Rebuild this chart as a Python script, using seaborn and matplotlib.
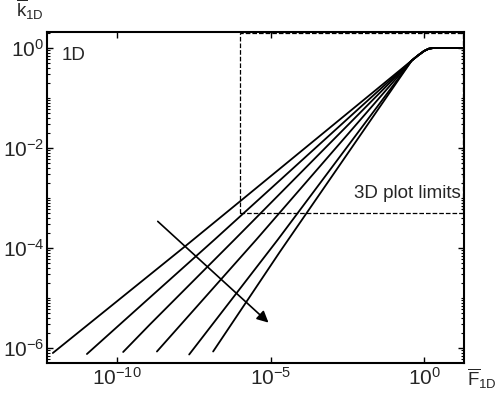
import numpy as np
import pandas as pd
import matplotlib
matplotlib.use('Agg')
import matplotlib.pyplot as plt
import seaborn as sns
from matplotlib.ticker import FixedLocator, LogLocator, NullLocator, NullFormatter
from matplotlib.patches import Rectangle

sns.set_theme(style='ticks')
plt.rcParams['font.family'] = ['Liberation Sans', 'DejaVu Sans']
plt.rcParams['mathtext.fontset'] = 'custom'
plt.rcParams['mathtext.rm'] = 'Liberation Sans'
plt.rcParams['mathtext.it'] = 'Liberation Sans:italic'
plt.rcParams['mathtext.default'] = 'regular'

# curves (log10 of F and k)
logF_1 = [-12.09, -10.01, -7.79, -6.00, -0.40]
logk_1 = [-6.10, -5.07, -3.97, -3.07, -0.25]
logF_2 = [-10.98, -8.93, -6.82, -0.40]
logk_2 = [-6.12, -4.99, -3.83, -0.25]
logF_3 = [-9.80, -8.93, -6.17, -0.40]
logk_3 = [-6.08, -5.53, -3.83, -0.25]
logF_4 = [-8.70, -5.46, -0.40]
logk_4 = [-6.07, -3.83, -0.25]
logF_5 = [-7.65, -4.76, -0.40]
logk_5 = [-6.13, -3.83, -0.25]
logF_6 = [-6.87, -4.70, -0.40]
logk_6 = [-6.07, -4.08, -0.25]

# shared part after the curves merge (rolls over to the plateau at 1)
tail_logF = [-0.20, 0.00, 0.15, 0.30, 1.35]
tail_logk = [-0.15, -0.06, -0.015, 0.00, 0.00]

curves = [(1, logF_1, logk_1), (2, logF_2, logk_2), (3, logF_3, logk_3),
          (4, logF_4, logk_4), (5, logF_5, logk_5), (6, logF_6, logk_6)]

rows = []
for name, lf, lk in curves:
    for a, b in zip(lf + tail_logF, lk + tail_logk):
        rows.append((name, 10 ** a, 10 ** b))
df = pd.DataFrame(rows, columns=['curve', 'F', 'k'])

fig = plt.figure(figsize=(4.96, 3.95), dpi=100)
ax = fig.add_axes([47 / 496, 1 - 363 / 395, (464 - 47) / 496, (363 - 32) / 395])
ax.set_xscale('log')
ax.set_yscale('log')

sns.lineplot(data=df, x='F', y='k', units='curve', estimator=None, sort=False,
             color='black', lw=1.3, ax=ax)

ax.set_xlim(10 ** -12.28, 10 ** 1.30)
ax.set_ylim(10 ** -6.30, 10 ** 0.32)

# 3D plot region
ax.add_patch(Rectangle((1e-6, 5e-4), 10 ** 1.28 - 1e-6, 10 ** 0.31 - 5e-4,
                       fill=False, ls='--', lw=0.9, ec='black', zorder=1))
ax.text(10 ** 1.2, 10 ** -2.99, '3D plot limits', ha='right', va='baseline', fontsize=13.5)
ax.text(10 ** -11.79, 10 ** -0.23, '1D', ha='left', va='baseline', fontsize=13.5)

ax.annotate('', xy=(10 ** -5.0, 10 ** -5.53), xytext=(10 ** -8.74, 10 ** -3.43),
            arrowprops=dict(arrowstyle='-|>', color='black', lw=1.2, mutation_scale=17))

ax.xaxis.set_major_locator(FixedLocator([1e-10, 1e-5, 1e0]))
ax.xaxis.set_minor_locator(NullLocator())
ax.yaxis.set_major_locator(FixedLocator([1e-6, 1e-4, 1e-2, 1e0]))
ax.yaxis.set_minor_locator(LogLocator(base=10, subs=np.arange(1, 10), numticks=30))
ax.yaxis.set_minor_formatter(NullFormatter())
ax.tick_params(which='both', direction='in', top=True, right=True, color='black')
ax.tick_params(which='major', length=4, width=1.0, labelsize=15, pad=2)
ax.tick_params(which='minor', length=2.5, width=0.8)
ax.tick_params(axis='x', pad=3)
for s in ax.spines.values():
    s.set_linewidth(1.5)
    s.set_color('black')

fig.text(16 / 496, 1 - 17 / 395, r'$\overline{\mathrm{k}}_{\mathrm{1D}}$', fontsize=13.5, va='baseline')
fig.text(467 / 496, 1 - 386 / 395, r'$\overline{\mathrm{F}}_{\mathrm{1D}}$', fontsize=13.5, va='baseline')

fig.savefig('out.png', dpi=100)
